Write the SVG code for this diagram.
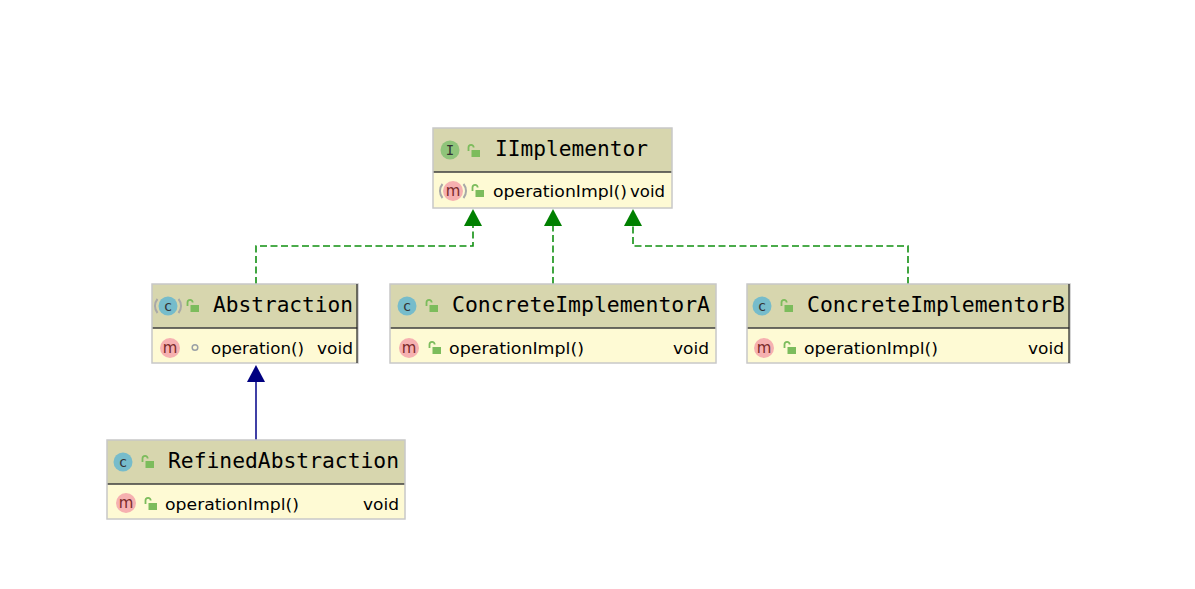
<svg xmlns="http://www.w3.org/2000/svg" width="1195" height="589" viewBox="0 0 1195 589">
<style>
.hdr{fill:#d7d6ae;stroke:none}
.bdy{fill:#fefad4;stroke:none}
.frame{fill:none;stroke:#c8c8c8;stroke-width:1.5}
.sep{stroke:#3e3e3e;stroke-width:1.6}
.edge{stroke:#222;stroke-width:1.2}
.title{font-family:"DejaVu Sans Mono","Liberation Mono",monospace;font-size:20.5px;fill:#000}
.mem{font-family:"DejaVu Sans","Noto Sans",sans-serif;font-size:16.5px;fill:#000}
.ic{font-family:"DejaVu Sans Mono","Liberation Mono",monospace;font-size:14px;text-anchor:middle;fill:#333}
.icm{font-family:"DejaVu Sans","Noto Sans",sans-serif;font-size:15px;text-anchor:middle;fill:#7a2a2a}
.dash{fill:none;stroke:#119011;stroke-width:1.6;stroke-dasharray:7,3.5}
.solid{fill:none;stroke:#000088;stroke-width:1.5}
</style>
<defs>
<g id="lock">
<path d="M-4.5,1 v-3.5 a2.6,2.6 0 0 1 5.2,0" fill="none" stroke="#7cbc5c" stroke-width="1.8"/>
<rect x="-1.5" y="0" width="8.5" height="7" fill="#7cbc5c"/>
</g>
<g id="cicon"><circle r="9.5" fill="#76bccb"/><text class="ic" y="4.5">c</text></g>
<g id="micon"><circle r="10" fill="#f6b0b0"/><text class="icm" y="4.5">m</text></g>
<g id="par"><path d="M-10.5,-7 a11,11 0 0 0 0,14 M10.5,-7 a11,11 0 0 1 0,14" fill="none" stroke="#a8a8a8" stroke-width="2"/></g>
</defs>

<g id="connectors">
<path class="dash" d="M256,284 V246 H473 V224"/>
<path class="dash" d="M553,284 V224"/>
<path class="dash" d="M908,284 V246 H633 V224"/>
<path d="M473,209 L464,226 L482,226 Z" fill="#008000"/>
<path d="M553,209 L544,226 L562,226 Z" fill="#008000"/>
<path d="M633,209 L624,226 L642,226 Z" fill="#008000"/>
<path class="solid" d="M256,440 V380"/>
<path d="M256,365 L247,382 L265,382 Z" fill="#000080"/>
</g>

<g id="IImplementor">
<rect class="hdr" x="433" y="128" width="239" height="44"/>
<rect class="bdy" x="433" y="172" width="239" height="36"/>
<line class="sep" x1="433" y1="172" x2="672" y2="172"/>
<rect class="frame" x="433" y="128" width="239" height="80"/>
<circle cx="450" cy="150" r="9.5" fill="#8fc47a"/>
<text class="ic" x="450" y="155">I</text>
<use href="#lock" x="473" y="150"/>
<text class="title" x="495" y="156" textLength="153" lengthAdjust="spacingAndGlyphs">IImplementor</text>
<use href="#par" x="453" y="191"/>
<use href="#micon" x="453" y="191"/>
<use href="#lock" x="477" y="190"/>
<text class="mem" x="493" y="197" textLength="134" lengthAdjust="spacingAndGlyphs">operationImpl()</text>
<text class="mem" x="630" y="197" textLength="35" lengthAdjust="spacingAndGlyphs">void</text>
</g>

<g id="Abstraction">
<rect class="hdr" x="152" y="284" width="206" height="44"/>
<rect class="bdy" x="152" y="328" width="206" height="35"/>
<line class="sep" x1="152" y1="328" x2="358" y2="328"/>
<rect class="frame" x="152" y="284" width="206" height="79"/>
<line class="edge" x1="357" y1="284" x2="357" y2="363"/>
<use href="#par" x="168" y="306"/>
<use href="#cicon" x="168" y="306"/>
<use href="#lock" x="192" y="305"/>
<text class="title" x="213" y="312" textLength="140" lengthAdjust="spacingAndGlyphs">Abstraction</text>
<use href="#micon" x="170" y="348"/>
<circle cx="195" cy="347.5" r="2.8" fill="none" stroke="#9aa0a6" stroke-width="1.5"/>
<text class="mem" x="211" y="354" textLength="93" lengthAdjust="spacingAndGlyphs">operation()</text>
<text class="mem" x="317" y="354" textLength="36" lengthAdjust="spacingAndGlyphs">void</text>
</g>

<g id="ConcreteImplementorA">
<rect class="hdr" x="390" y="284" width="326" height="44"/>
<rect class="bdy" x="390" y="328" width="326" height="35"/>
<line class="sep" x1="390" y1="328" x2="716" y2="328"/>
<rect class="frame" x="390" y="284" width="326" height="79"/>
<use href="#cicon" x="407" y="306"/>
<use href="#lock" x="431" y="305"/>
<text class="title" x="452" y="312" textLength="258" lengthAdjust="spacingAndGlyphs">ConcreteImplementorA</text>
<use href="#micon" x="409" y="348"/>
<use href="#lock" x="434" y="347"/>
<text class="mem" x="449" y="354" textLength="135" lengthAdjust="spacingAndGlyphs">operationImpl()</text>
<text class="mem" x="673" y="354" textLength="36" lengthAdjust="spacingAndGlyphs">void</text>
</g>

<g id="ConcreteImplementorB">
<rect class="hdr" x="747" y="284" width="323" height="44"/>
<rect class="bdy" x="747" y="328" width="323" height="35"/>
<line class="sep" x1="747" y1="328" x2="1070" y2="328"/>
<rect class="frame" x="747" y="284" width="323" height="79"/>
<line class="edge" x1="1069" y1="284" x2="1069" y2="363"/>
<use href="#cicon" x="762" y="306"/>
<use href="#lock" x="786" y="305"/>
<text class="title" x="807" y="312" textLength="258" lengthAdjust="spacingAndGlyphs">ConcreteImplementorB</text>
<use href="#micon" x="764" y="348"/>
<use href="#lock" x="789" y="347"/>
<text class="mem" x="804" y="354" textLength="134" lengthAdjust="spacingAndGlyphs">operationImpl()</text>
<text class="mem" x="1028" y="354" textLength="36" lengthAdjust="spacingAndGlyphs">void</text>
</g>

<g id="RefinedAbstraction">
<rect class="hdr" x="107" y="440" width="298" height="44"/>
<rect class="bdy" x="107" y="484" width="298" height="35"/>
<line class="sep" x1="107" y1="484" x2="405" y2="484"/>
<rect class="frame" x="107" y="440" width="298" height="79"/>
<use href="#cicon" x="123" y="462"/>
<use href="#lock" x="147" y="461"/>
<text class="title" x="168" y="468" textLength="231" lengthAdjust="spacingAndGlyphs">RefinedAbstraction</text>
<use href="#micon" x="126" y="503"/>
<use href="#lock" x="150" y="503"/>
<text class="mem" x="165" y="510" textLength="134" lengthAdjust="spacingAndGlyphs">operationImpl()</text>
<text class="mem" x="363" y="510" textLength="36" lengthAdjust="spacingAndGlyphs">void</text>
</g>
</svg>
